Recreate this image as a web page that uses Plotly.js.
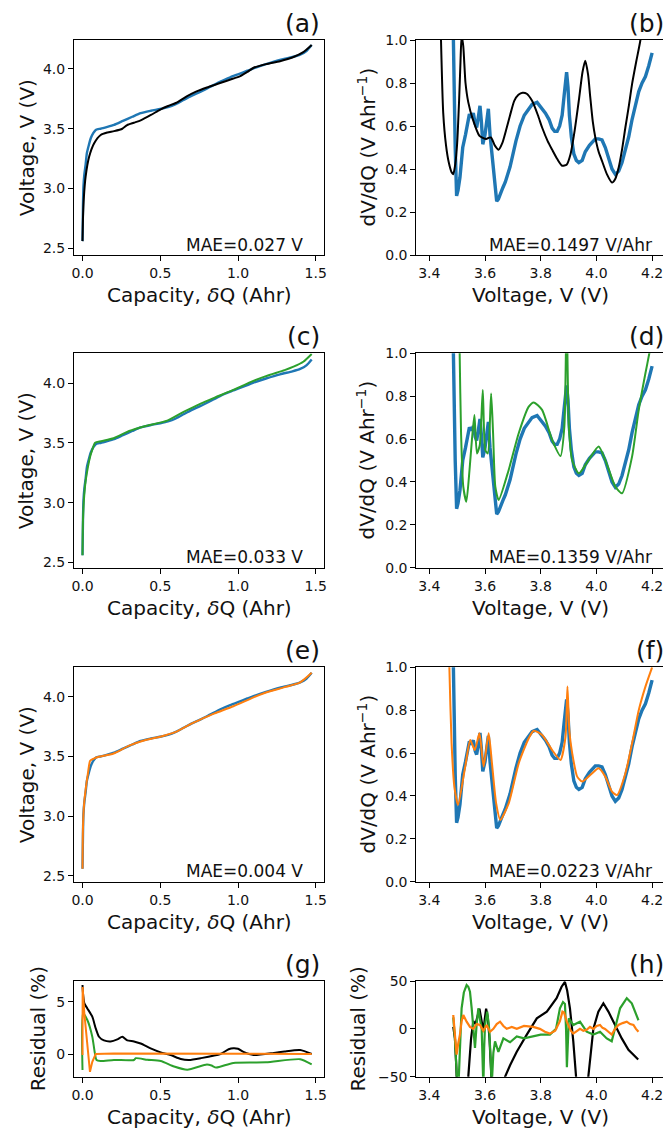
<!DOCTYPE html>
<html>
<head>
<meta charset="utf-8">
<script src="https://cdn.plot.ly/plotly-3.0.1.min.js"></script>
<style>
  html, body { margin: 0; padding: 0; background: #fff; overflow: hidden; }
  #chart { width: 663px; height: 1128px; }
</style>
</head>
<body>
<div id="chart"></div>
<script>
// ---------- Voltage vs capacity ----------
// measured discharge curve
const qMeas = [0, 0.003, 0.006, 0.012, 0.02, 0.028, 0.04, 0.053, 0.07, 0.085, 0.1, 0.117, 0.16, 0.203, 0.26, 0.32, 0.374, 0.44, 0.5, 0.55, 0.6, 0.65, 0.7, 0.76, 0.82, 0.887, 0.95, 1.0, 1.06, 1.1, 1.18, 1.27, 1.35, 1.4, 1.44, 1.474];
const vMeas = [2.56, 2.85, 3.016, 3.12, 3.2, 3.295, 3.36, 3.42, 3.465, 3.49, 3.497, 3.50, 3.515, 3.532, 3.565, 3.60, 3.63, 3.65, 3.665, 3.68, 3.705, 3.74, 3.775, 3.81, 3.85, 3.895, 3.93, 3.955, 3.985, 4.005, 4.04, 4.075, 4.10, 4.12, 4.15, 4.20];

// model A (black)
const qModelA = [0, 0.003, 0.009, 0.02, 0.043, 0.075, 0.117, 0.16, 0.203, 0.256, 0.287, 0.33, 0.374, 0.44, 0.5, 0.55, 0.6, 0.67, 0.73, 0.8, 0.88, 0.97, 1.015, 1.06, 1.1, 1.18, 1.27, 1.357, 1.42, 1.474];
const vModelA = [2.56, 2.75, 2.93, 3.10, 3.267, 3.379, 3.448, 3.468, 3.48, 3.50, 3.53, 3.55, 3.57, 3.615, 3.66, 3.69, 3.715, 3.77, 3.81, 3.845, 3.88, 3.92, 3.94, 3.975, 4.01, 4.04, 4.065, 4.10, 4.14, 4.20];

// model C (green)
const qModelC = [0, 0.003, 0.009, 0.02, 0.035, 0.05, 0.062, 0.081, 0.12, 0.2, 0.3, 0.4, 0.545, 0.65, 0.76, 0.85, 0.97, 1.08, 1.18, 1.3, 1.357, 1.42, 1.474];
const vModelC = [2.56, 2.85, 3.02, 3.18, 3.30, 3.39, 3.44, 3.502, 3.515, 3.54, 3.60, 3.64, 3.687, 3.76, 3.83, 3.88, 3.944, 4.01, 4.06, 4.11, 4.139, 4.18, 4.245];

// model E (orange)
const qModelE = [0, 0.003, 0.01, 0.02, 0.035, 0.049, 0.07, 0.1, 0.2, 0.3, 0.4, 0.5, 0.6, 0.7, 0.76, 0.85, 0.97, 1.1, 1.18, 1.3, 1.4, 1.474];
const vModelE = [2.56, 2.9, 3.1, 3.22, 3.36, 3.464, 3.48, 3.495, 3.525, 3.59, 3.635, 3.665, 3.705, 3.775, 3.81, 3.86, 3.92, 3.995, 4.035, 4.08, 4.12, 4.20];

// ---------- dV/dQ vs voltage ----------
const vDiffMeas = [3.480, 3.484, 3.488, 3.493, 3.498, 3.503, 3.51, 3.52, 3.53, 3.537, 3.544, 3.551, 3.558, 3.565, 3.570, 3.576, 3.582, 3.587, 3.592, 3.600, 3.606, 3.612, 3.618, 3.624, 3.630, 3.636, 3.642, 3.648, 3.656, 3.664, 3.673, 3.690, 3.711, 3.726, 3.741, 3.755, 3.769, 3.787, 3.80, 3.817, 3.830, 3.841, 3.850, 3.859, 3.868, 3.877, 3.884, 3.889, 3.893, 3.898, 3.903, 3.910, 3.919, 3.928, 3.937, 3.949, 3.960, 3.975, 3.996, 4.008, 4.020, 4.032, 4.044, 4.056, 4.068, 4.080, 4.092, 4.104, 4.116, 4.128, 4.140, 4.152, 4.164, 4.176, 4.188, 4.200];
const dvdqMeas = [1.5, 1.1, 0.8, 0.5, 0.275, 0.30, 0.36, 0.5, 0.56, 0.62, 0.655, 0.64, 0.66, 0.61, 0.593, 0.64, 0.694, 0.62, 0.515, 0.56, 0.64, 0.68, 0.56, 0.48, 0.42, 0.32, 0.25, 0.26, 0.29, 0.313, 0.34, 0.41, 0.53, 0.60, 0.65, 0.675, 0.70, 0.71, 0.69, 0.66, 0.63, 0.59, 0.575, 0.575, 0.6, 0.65, 0.74, 0.82, 0.85, 0.78, 0.65, 0.55, 0.47, 0.44, 0.43, 0.44, 0.48, 0.51, 0.54, 0.54, 0.535, 0.50, 0.45, 0.40, 0.375, 0.39, 0.43, 0.49, 0.55, 0.63, 0.70, 0.76, 0.80, 0.83, 0.88, 0.94];

const vDiffA = [3.436, 3.442, 3.450, 3.460, 3.470, 3.480, 3.486, 3.493, 3.500, 3.507, 3.512, 3.516, 3.522, 3.530, 3.540, 3.556, 3.580, 3.604, 3.615, 3.622, 3.635, 3.649, 3.662, 3.675, 3.690, 3.705, 3.72, 3.735, 3.75, 3.769, 3.79, 3.805, 3.825, 3.841, 3.86, 3.877, 3.893, 3.907, 3.922, 3.937, 3.950, 3.960, 3.970, 3.978, 3.987, 3.996, 4.008, 4.020, 4.038, 4.056, 4.068, 4.080, 4.092, 4.104, 4.116, 4.128, 4.143, 4.158, 4.176];
const dvdqA = [1.4, 1.0, 0.66, 0.51, 0.43, 0.385, 0.376, 0.42, 0.52, 0.72, 0.90, 1.02, 0.97, 0.80, 0.71, 0.632, 0.554, 0.539, 0.546, 0.546, 0.51, 0.49, 0.52, 0.578, 0.65, 0.717, 0.745, 0.755, 0.75, 0.717, 0.65, 0.593, 0.53, 0.49, 0.445, 0.415, 0.42, 0.469, 0.58, 0.72, 0.85, 0.904, 0.84, 0.733, 0.62, 0.547, 0.48, 0.438, 0.375, 0.337, 0.355, 0.407, 0.49, 0.593, 0.69, 0.795, 0.90, 1.0, 1.2];

const vDiffC = [3.505, 3.509, 3.514, 3.522, 3.533, 3.544, 3.553, 3.562, 3.571, 3.581, 3.592, 3.601, 3.610, 3.622, 3.629, 3.637, 3.649, 3.685, 3.721, 3.757, 3.775, 3.805, 3.841, 3.871, 3.885, 3.893, 3.901, 3.913, 3.937, 3.972, 4.008, 4.032, 4.068, 4.092, 4.128, 4.152, 4.176, 4.190, 4.200];
const dvdqC = [1.3, 1.0, 0.627, 0.378, 0.308, 0.45, 0.596, 0.712, 0.533, 0.57, 0.829, 0.549, 0.533, 0.813, 0.627, 0.378, 0.316, 0.456, 0.627, 0.751, 0.771, 0.736, 0.596, 0.521, 0.66, 1.2, 0.66, 0.50, 0.44, 0.502, 0.565, 0.502, 0.378, 0.347, 0.518, 0.736, 0.907, 1.0, 1.08];

const vDiffE = [3.468, 3.472, 3.480, 3.490, 3.503, 3.529, 3.547, 3.563, 3.580, 3.595, 3.613, 3.625, 3.640, 3.655, 3.685, 3.721, 3.757, 3.775, 3.805, 3.841, 3.871, 3.889, 3.896, 3.903, 3.913, 3.931, 3.949, 3.984, 4.008, 4.032, 4.056, 4.074, 4.104, 4.128, 4.152, 4.176, 4.200];
const dvdqE = [1.3, 1.0, 0.645, 0.443, 0.358, 0.537, 0.661, 0.614, 0.692, 0.537, 0.692, 0.552, 0.365, 0.288, 0.365, 0.552, 0.669, 0.704, 0.684, 0.614, 0.568, 0.676, 0.91, 0.70, 0.60, 0.49, 0.467, 0.505, 0.529, 0.49, 0.42, 0.404, 0.505, 0.645, 0.80, 0.91, 1.0];

// ---------- residuals vs capacity (%) ----------
const qResA = [0, 0.002, 0.012, 0.031, 0.063, 0.085, 0.106, 0.138, 0.181, 0.224, 0.256, 0.288, 0.331, 0.374, 0.438, 0.503, 0.567, 0.632, 0.685, 0.76, 0.887, 0.94, 0.97, 1.0, 1.035, 1.1, 1.23, 1.3, 1.4, 1.474];
const resA  = [6.6, 6.0, 4.84, 4.36, 3.57, 2.45, 1.65, 1.3, 1.2, 1.4, 1.65, 1.3, 1.2, 1.0, 0.54, 0.16, -0.1, -0.48, -0.57, -0.4, 0.0, 0.45, 0.55, 0.5, 0.2, -0.1, 0.1, 0.25, 0.38, 0.0];

const qResC = [0, 0.003, 0.031, 0.063, 0.078, 0.09, 0.116, 0.202, 0.331, 0.342, 0.417, 0.503, 0.589, 0.674, 0.8, 0.83, 0.86, 0.97, 1.18, 1.4, 1.474];
const resC  = [-1.53, 3.9, 3.25, 1.65, 0.22, -0.57, -0.67, -0.57, -0.57, -0.4, -0.55, -0.67, -1.2, -1.5, -1.0, -1.1, -1.3, -0.85, -0.8, -0.5, -1.0];

const qResE = [0, 0.001, 0.011, 0.031, 0.048, 0.063, 0.085, 0.2, 0.5, 1.0, 1.474];
const resE  = [-0.1, 6.4, 4.0, 1.2, -1.7, -0.75, 0.0, 0.05, 0.05, 0.05, 0.0];

// ---------- residuals vs voltage (%) ----------
const vResA = [3.486, 3.492, 3.497, 3.502, 3.53, 3.540, 3.550, 3.558, 3.566, 3.574, 3.580, 3.588, 3.594, 3.599, 3.604, 3.610, 3.616, 3.622, 3.626, 3.665, 3.672, 3.69, 3.714, 3.75, 3.786, 3.822, 3.857, 3.875, 3.887, 3.895, 3.905, 3.917, 3.929, 3.935, 3.965, 3.971, 3.989, 4.007, 4.025, 4.043, 4.067, 4.091, 4.115, 4.135, 4.150];
const resVA = [2, -10, -40, -80, -80, -50, -10, 8, 5, 15, 21, 8, -3, 10, 21, 12, -10, -45, -80, -80, -50, -38, -24, -6, 11, 18, 32, 44, 49, 40, 21.5, -13, -50, -80, -80, -50, 0, 18, 26.7, 18, 4, -10, -22, -28, -32];

const vResC = [3.486, 3.492, 3.498, 3.503, 3.506, 3.511, 3.516, 3.524, 3.534, 3.540, 3.546, 3.552, 3.558, 3.564, 3.570, 3.576, 3.582, 3.588, 3.591, 3.594, 3.597, 3.600, 3.608, 3.615, 3.620, 3.624, 3.630, 3.636, 3.648, 3.666, 3.69, 3.714, 3.74, 3.773, 3.80, 3.833, 3.855, 3.869, 3.880, 3.887, 3.891, 3.894, 3.897, 3.901, 3.917, 3.941, 3.965, 3.989, 4.013, 4.037, 4.055, 4.067, 4.085, 4.109, 4.127, 4.151];
const resVC = [12, -10, -45, -80, -50, -10, 21.5, 38, 45.8, 44, 38.8, 22, 4, -20, 5, 21.5, 10, 0, -30, -60, -20, 4, 18, 0, -30, -60, -25, -13, -24, -10, -14, -8, -10, -8, -6, -6, 0, 21.5, 28, 26, 0, -40, -10, 11, 4, 7.5, -3, -6, -3, -10, -13, 0, 21.5, 32, 26.7, 9];

const vResE = [3.486, 3.492, 3.498, 3.504, 3.510, 3.516, 3.522, 3.534, 3.546, 3.558, 3.570, 3.582, 3.594, 3.606, 3.618, 3.630, 3.642, 3.654, 3.666, 3.678, 3.696, 3.714, 3.74, 3.773, 3.797, 3.815, 3.833, 3.852, 3.869, 3.878, 3.884, 3.893, 3.899, 3.908, 3.917, 3.929, 3.941, 3.953, 3.965, 3.977, 3.989, 4.001, 4.013, 4.022, 4.031, 4.043, 4.055, 4.067, 4.079, 4.094, 4.109, 4.121, 4.133, 4.142, 4.151];
const resVE = [14.5, -10, -27, -15, -6, 8, 14.5, 7.5, 2, 0, 5, 4, -2, 4, -3, 0, 5, 7.5, 3, 0, 2, 0, 3, 2, 0, -3, -5, -2, 8, 18, 17, 8, 4, -2, -5, -2, 0, -2, -1, 2, 0, 3, 4, 1, 0, -3, -6, 0, 4, 6, 7.5, 5, 4, 0, -3];

// ---------- labels ----------
const panelLabels = ['(a)', '(b)', '(c)', '(d)', '(e)', '(f)', '(g)', '(h)'];
const maeLabels = ['MAE=0.027 V', 'MAE=0.1497 V/Ahr', 'MAE=0.033 V', 'MAE=0.1359 V/Ahr', 'MAE=0.004 V', 'MAE=0.0223 V/Ahr'];
const capTicks = [0, 0.5, 1.0, 1.5];
const voltTicks = [2.5, 3.0, 3.5, 4.0];
const vAxisTicks = [3.4, 3.6, 3.8, 4.0, 4.2];
const dvdqTicks = [0, 0.2, 0.4, 0.6, 0.8, 1.0];
const resCapTicks = [0, 5];
const resVoltTicks = [-50, 0, 50];

const BLUE = '#1f77b4', BLACK = '#000000', GREEN = '#2ca02c', ORANGE = '#ff7f0e';
const W = 663, H = 1128;
const FONT = 'DejaVu Sans';
const px = v => v / W;
const py = v => 1 - v / H;

// plot-area boxes in pixels: [top, bottom]
const rows = [[40, 255], [353.3, 567.7], [667.3, 881.7], [981, 1076.7]];
const leftCol = [74, 324];
const rightCol = [416.3, 663];

function line(x, y, color, width, xa, ya, smooth) {
  const l = { color: color, width: width };
  if (smooth) { l.shape = 'spline'; l.smoothing = 0.6; }
  return { type: 'scatter', mode: 'lines', x: x, y: y, line: l, xaxis: xa, yaxis: ya, hoverinfo: 'skip' };
}

const data = [
  // (a)
  line(qMeas, vMeas, BLUE, 2.4, 'x', 'y', true),
  line(qModelA, vModelA, BLACK, 2, 'x', 'y', true),
  // (b)
  line(vDiffMeas, dvdqMeas, BLUE, 3.4, 'x2', 'y2', false),
  line(vDiffA, dvdqA, BLACK, 2, 'x2', 'y2', true),
  // (c)
  line(qMeas, vMeas, BLUE, 2.4, 'x3', 'y3', true),
  line(qModelC, vModelC, GREEN, 2, 'x3', 'y3', true),
  // (d)
  line(vDiffMeas, dvdqMeas, BLUE, 3.4, 'x4', 'y4', false),
  line(vDiffC, dvdqC, GREEN, 2, 'x4', 'y4', true),
  // (e)
  line(qMeas, vMeas, BLUE, 2.4, 'x5', 'y5', true),
  line(qModelE, vModelE, ORANGE, 2, 'x5', 'y5', true),
  // (f)
  line(vDiffMeas, dvdqMeas, BLUE, 3.4, 'x6', 'y6', false),
  line(vDiffE, dvdqE, ORANGE, 2, 'x6', 'y6', true),
  // (g)
  line(qResA, resA, BLACK, 2, 'x7', 'y7', true),
  line(qResC, resC, GREEN, 2, 'x7', 'y7', true),
  line(qResE, resE, ORANGE, 2, 'x7', 'y7', false),
  // (h)
  line(vResA, resVA, BLACK, 2.2, 'x8', 'y8', false),
  line(vResC, resVC, GREEN, 2.2, 'x8', 'y8', false),
  line(vResE, resVE, ORANGE, 2.2, 'x8', 'y8', false)
];

const tickFont = { family: FONT, size: 14, color: '#111' };
function axisBase(extra) {
  return Object.assign({
    showline: true, linecolor: '#000', linewidth: 1,
    ticks: 'outside', ticklen: 5, tickwidth: 1, tickcolor: '#000',
    showgrid: false, zeroline: false, tickfont: tickFont, fixedrange: true,
    ticklabeloverflow: 'allow'
  }, extra);
}

const layout = {
  width: W, height: H, autosize: false,
  margin: { l: 0, r: 0, t: 0, b: 0, pad: 0 },
  paper_bgcolor: '#fff', plot_bgcolor: '#fff',
  showlegend: false,
  font: { family: FONT, color: '#111' },
  annotations: [],
  shapes: []
};

const capRange = [-0.0547, 1.5531];
const voltRangeX = [3.3533, 4.2391];
const yRanges = {
  y: [2.444, 4.242], y3: [2.455, 4.251], y5: [2.452, 4.246],
  y2: [0, 1], y4: [0, 1], y6: [0, 1],
  y7: [-2.17, 6.98], y8: [-50, 50]
};

for (let i = 0; i < 8; i++) {
  const n = i + 1;
  const row = rows[Math.floor(i / 2)];
  const isLeft = i % 2 === 0;
  const col = isLeft ? leftCol : rightCol;
  const xKey = n === 1 ? 'xaxis' : 'xaxis' + n;
  const yKey = n === 1 ? 'yaxis' : 'yaxis' + n;
  const yId = n === 1 ? 'y' : 'y' + n;
  const xId = n === 1 ? 'x' : 'x' + n;
  layout[xKey] = axisBase({
    domain: [px(col[0]), px(col[1])],
    anchor: yId,
    range: isLeft ? capRange : voltRangeX,
    tickmode: 'array',
    tickvals: isLeft ? capTicks : vAxisTicks,
    tickformat: '.1f',
    mirror: true
  });
  let yTicks, yFmt;
  if (i === 6) { yTicks = resCapTicks; yFmt = 'd'; }
  else if (i === 7) { yTicks = resVoltTicks; yFmt = 'd'; }
  else if (isLeft) { yTicks = voltTicks; yFmt = '.1f'; }
  else { yTicks = dvdqTicks; yFmt = '.1f'; }
  layout[yKey] = axisBase({
    domain: [py(row[1]), py(row[0])],
    anchor: xId,
    range: yRanges[yId],
    tickmode: 'array',
    tickvals: yTicks,
    tickformat: yFmt,
    mirror: isLeft
  });

  // panel letter
  layout.annotations.push({
    xref: 'paper', yref: 'paper', showarrow: false,
    x: px(isLeft ? 322 : 666), y: py(row[0] - 16.5),
    xanchor: 'right', yanchor: 'middle',
    text: panelLabels[i], font: { family: FONT, size: 25, color: '#111' }
  });
  // MAE label
  if (i < 6) {
    layout.annotations.push({
      xref: 'paper', yref: 'paper', showarrow: false,
      x: px(isLeft ? 305 : 654), y: py(row[1] - 10.5),
      xanchor: 'right', yanchor: 'middle',
      text: maeLabels[i], font: { family: FONT, size: 17, color: '#111' }
    });
  }
  // x title
  layout.annotations.push({
    xref: 'paper', yref: 'paper', showarrow: false,
    x: px(isLeft ? 199 : 540), y: py(row[1] + 40),
    xanchor: 'center', yanchor: 'middle',
    text: isLeft ? 'Capacity, <i>δ</i>Q (Ahr)' : 'Voltage, V (V)',
    font: { family: FONT, size: 20, color: '#111' }
  });
  // y title
  let yTitle, yTitleX;
  if (i === 6) { yTitle = 'Residual (%)'; yTitleX = 37.5; }
  else if (i === 7) { yTitle = 'Residual (%)'; yTitleX = 357.7; }
  else if (isLeft) { yTitle = 'Voltage, V (V)'; yTitleX = 26.7; }
  else { yTitle = 'dV/dQ (V Ahr<sup>−1</sup>)'; yTitleX = 366; }
  layout.annotations.push({
    xref: 'paper', yref: 'paper', showarrow: false,
    x: px(yTitleX), y: py((row[0] + row[1]) / 2),
    xanchor: 'center', yanchor: 'middle', textangle: -90,
    text: yTitle, font: { family: FONT, size: 20, color: '#111' }
  });
}

Plotly.newPlot('chart', data, layout, { staticPlot: true, displayModeBar: false });
</script>
</body>
</html>
